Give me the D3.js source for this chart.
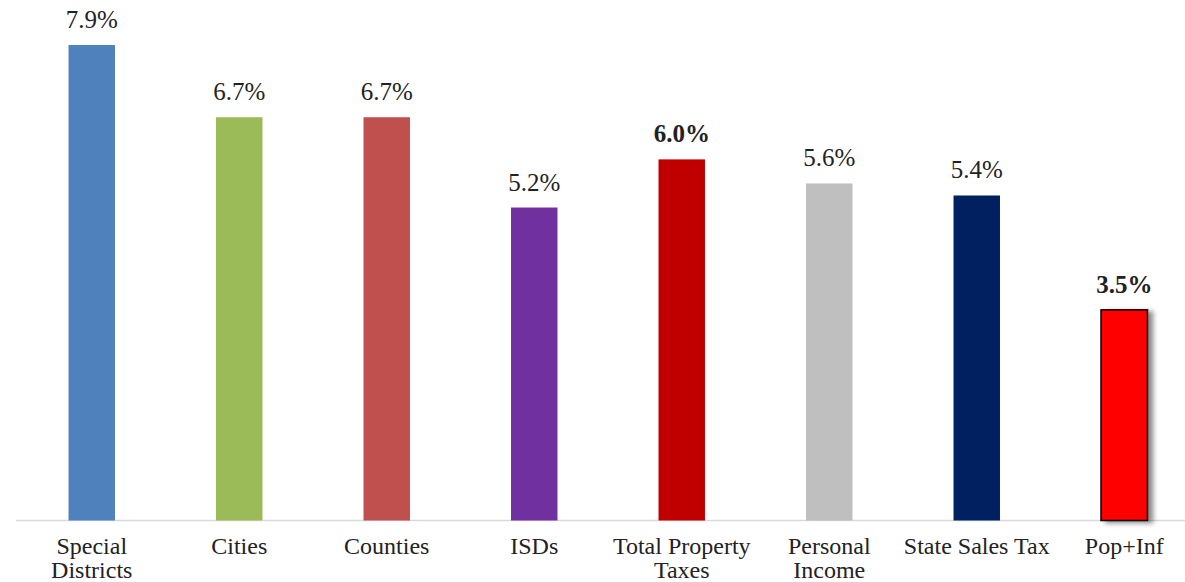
<!DOCTYPE html>
<html>
<head>
<meta charset="utf-8">
<script src="https://cdn.jsdelivr.net/npm/d3@7"></script>
<style>
  html, body { margin: 0; padding: 0; background: #fff; }
  svg { display: block; }
</style>
</head>
<body>
<svg id="chart" width="1185" height="582"></svg>
<script>
// Average annual growth rates
const categories = [
  "Special Districts", "Cities", "Counties", "ISDs",
  "Total Property Taxes", "Personal Income", "State Sales Tax", "Pop+Inf"
];
const categoryLines = [
  ["Special", "Districts"], ["Cities"], ["Counties"], ["ISDs"],
  ["Total Property", "Taxes"], ["Personal", "Income"], ["State Sales Tax"], ["Pop+Inf"]
];
const growthRates = [7.9, 6.7, 6.7, 5.2, 6.0, 5.6, 5.4, 3.5];

// Styling
const barColors = {
  "Special Districts": "#4F81BD",
  "Cities": "#9BBB59",
  "Counties": "#C0504D",
  "ISDs": "#7030A0",
  "Total Property Taxes": "#C00000",
  "Personal Income": "#BFBFBF",
  "State Sales Tax": "#002060",
  "Pop+Inf": "#FF0000"
};
const boldLabels = new Set(["Total Property Taxes", "Pop+Inf"]);
const outlinedBars = new Set(["Pop+Inf"]);

const svg = d3.select("#chart");
const font = "'Liberation Serif', 'Times New Roman', serif";
const baseY = 520.5;

const x = d3.scaleBand()
  .domain(categories)
  .range([18, 1198])
  .paddingInner(0.685)
  .paddingOuter(0.3425);

const y = d3.scaleLinear()
  .domain([0, 8])
  .range([baseY, 39]);

// shadow for the outlined bar
const defs = svg.append("defs");
const f = defs.append("filter").attr("id", "shadow")
  .attr("x", "-20%").attr("y", "-10%").attr("width", "160%").attr("height", "130%");
f.append("feDropShadow")
  .attr("dx", 5).attr("dy", 2).attr("stdDeviation", 2.5)
  .attr("flood-color", "#000").attr("flood-opacity", 0.45);

const data = categories.map((c, i) => ({ cat: c, value: growthRates[i], lines: categoryLines[i] }));

// axis line
svg.append("line")
  .attr("x1", 16).attr("x2", 1185)
  .attr("y1", baseY).attr("y2", baseY)
  .attr("stroke", "#D9D9D9").attr("stroke-width", 1.5);

// bars
svg.append("g").selectAll("rect")
  .data(data)
  .join("rect")
  .attr("x", d => x(d.cat))
  .attr("y", d => y(d.value))
  .attr("width", x.bandwidth())
  .attr("height", d => y(0) - y(d.value))
  .attr("fill", d => barColors[d.cat])
  .attr("stroke", d => outlinedBars.has(d.cat) ? "#000" : "none")
  .attr("stroke-width", d => outlinedBars.has(d.cat) ? 1.5 : 0)
  .attr("filter", d => outlinedBars.has(d.cat) ? "url(#shadow)" : null);

// value labels
svg.append("g").selectAll("text")
  .data(data)
  .join("text")
  .attr("x", d => x(d.cat) + x.bandwidth() / 2)
  .attr("y", d => y(d.value) - 17)
  .attr("text-anchor", "middle")
  .attr("font-family", font)
  .attr("font-size", 25)
  .attr("font-weight", d => boldLabels.has(d.cat) ? "bold" : "normal")
  .attr("fill", "#222")
  .text(d => d3.format(".1f")(d.value) + "%");

// category labels
const cl = svg.append("g").selectAll("text")
  .data(data)
  .join("text")
  .attr("x", d => x(d.cat) + x.bandwidth() / 2)
  .attr("y", 554)
  .attr("text-anchor", "middle")
  .attr("font-family", font)
  .attr("font-size", 24)
  .attr("fill", "#222");
cl.selectAll("tspan")
  .data(d => d.lines.map(l => ({ l, cx: x(d.cat) + x.bandwidth() / 2 })))
  .join("tspan")
  .attr("x", t => t.cx)
  .attr("dy", (t, i) => i === 0 ? 0 : 24)
  .text(t => t.l);
</script>
</body>
</html>
